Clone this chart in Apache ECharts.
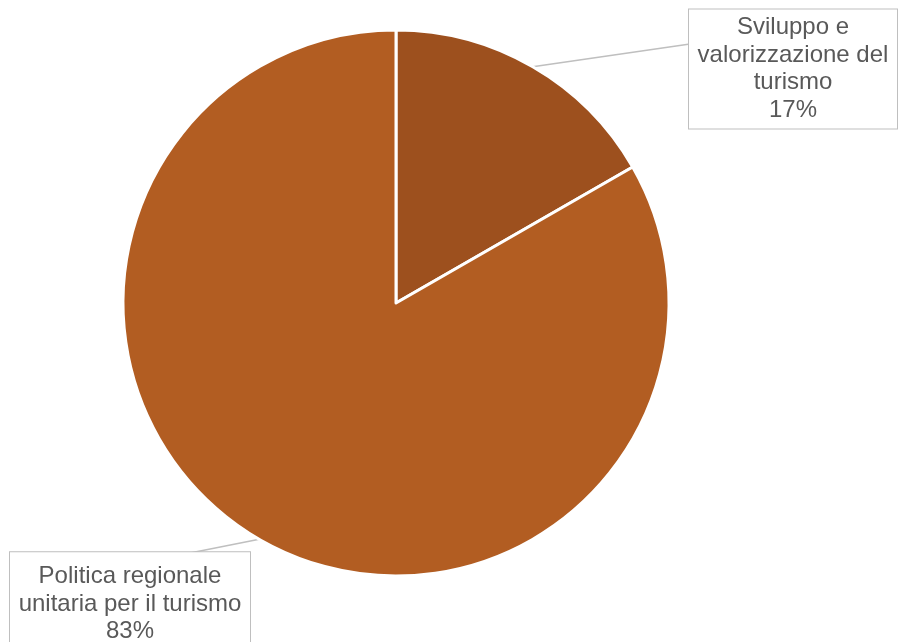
<!DOCTYPE html>
<html>
<head>
<meta charset="utf-8">
<script src="https://cdn.jsdelivr.net/npm/echarts@6/dist/echarts.min.js"></script>
<style>
  html, body { margin: 0; padding: 0; background: #fff; }
  #chart { width: 899px; height: 642px; }
</style>
</head>
<body>
<div id="chart"></div>
<script>
  // slice data
  const categories = ['Sviluppo e\nvalorizzazione del\nturismo', 'Politica regionale\nunitaria per il turismo'];
  const values = [16.7, 83.3];
  const colors = ['#9D501E', '#B25D22'];

  // callout boxes: centre of the box and where the leader meets its edge
  const labelSpots = [
    { x: 793, y: 69, edge: [690, 44], w: 190, pad: [5, 9, 4, 9] },
    { x: 130, y: 604, edge: [190, 553], w: 212, pad: [17, 14, 4, 14] },
  ];

  const chart = echarts.init(document.getElementById('chart'));

  chart.setOption({
    animation: false,
    series: [
      {
        type: 'pie',
        center: [396, 303],
        radius: 273,
        startAngle: 90,
        clockwise: true,
        percentPrecision: 0,
        data: categories.map((name, i) => ({
          name,
          value: values[i],
          itemStyle: { color: colors[i] },
          label: { width: labelSpots[i].w, padding: labelSpots[i].pad },
        })),
        itemStyle: { borderColor: '#fff', borderWidth: 3 },
        label: {
          show: true,
          position: 'outside',
          formatter: (p) => `${p.name}\n${p.percent}%`,
          fontFamily: 'Liberation Sans, Arial, sans-serif',
          fontSize: 24,
          lineHeight: 27.5,
          color: '#595959',
          align: 'center',
          overflow: 'none',
          backgroundColor: '#fff',
          borderColor: '#BFBFBF',
          borderWidth: 1,
        },
        labelLine: {
          show: true,
          lineStyle: { color: '#BFBFBF', width: 1.5 },
        },
        labelLayout: (params) => {
          const s = labelSpots[params.dataIndex];
          const start = params.labelLinePoints ? params.labelLinePoints[0] : s.edge;
          return {
            x: s.x,
            y: s.y,
            align: 'center',
            verticalAlign: 'middle',
            labelLinePoints: [start, s.edge, s.edge],
          };
        },
        emphasis: { disabled: true },
      },
    ],
  });
</script>
</body>
</html>
